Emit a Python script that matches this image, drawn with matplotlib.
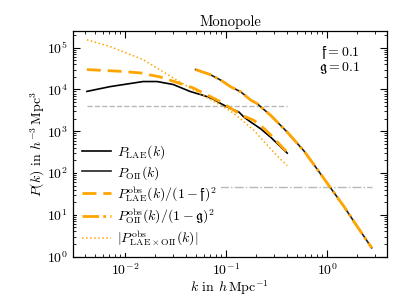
import numpy as np
import matplotlib
matplotlib.use("Agg")
import matplotlib.pyplot as plt

plt.rcParams['font.family'] = 'serif'
plt.rcParams['font.serif'] = ['cmr10']
plt.rcParams['mathtext.fontset'] = 'cm'
plt.rcParams['axes.unicode_minus'] = False
plt.rcParams['axes.formatter.use_mathtext'] = True

# --- data ---
k_lae = [0.0042, 0.0071, 0.0151, 0.0208, 0.030, 0.044, 0.060, 0.074, 0.0889,
         0.1115, 0.134, 0.150, 0.176, 0.22, 0.277, 0.33, 0.404]
p_lae = [9000, 11700, 15500, 15500, 13200, 9000, 7200, 6000, 4600,
         3470, 2900, 2200, 1660, 1150, 720, 480, 300]

k_lae_obs = [0.0042, 0.0089, 0.0141, 0.0222, 0.030, 0.047, 0.069, 0.0889,
             0.120, 0.150, 0.189, 0.23, 0.277, 0.373, 0.404]
p_lae_obs = [30000, 27300, 25000, 20000, 15800, 11000, 6900, 5040,
             3170, 2300, 1820, 1250, 820, 380, 320]

k_oii = [0.050, 0.069, 0.0889, 0.1115, 0.140, 0.176, 0.203, 0.277, 0.404,
         0.588, 0.797, 1.078, 1.458, 1.976, 2.77]
p_oii = [30000, 23000, 16750, 11600, 8800, 5560, 4600, 2400, 955,
         344, 125, 45, 16.3, 5.4, 1.62]

k_cross = [0.0042, 0.0071, 0.0151, 0.028, 0.047, 0.070, 0.0889, 0.120,
           0.150, 0.189, 0.23, 0.277, 0.33, 0.404]
p_cross = [155000, 107000, 52000, 21000, 10000, 5800, 4200, 2660,
           1700, 1050, 620, 380, 240, 150]

shot_lae = 4050.0
shot_lae_range = [0.0042, 0.404]
shot_oii = 46.8
shot_oii_range = [0.0042, 2.77]

f_val = 0.1
g_val = 0.1

fig = plt.figure(figsize=(4.07, 3.05), dpi=100)
ax = fig.add_axes([0.179, 0.157, 0.772, 0.741])

ax.plot(shot_lae_range, [shot_lae, shot_lae], color='#b8b8b8', ls='--', lw=1.0)
ax.plot(shot_oii_range, [shot_oii, shot_oii], color='#b8b8b8', ls='-.', lw=1.0)

ax.plot(k_lae, p_lae, color='black', lw=1.2, label=r'$P_{\rm LAE}(k)$')
ax.plot(k_oii, p_oii, color='#222222', lw=1.2, label=r'$P_{\rm OII}(k)$')
ax.plot(k_lae_obs, p_lae_obs, color='orange', ls=(0, (5, 2.5)), lw=2.0,
        label=r'$P^{\rm obs}_{\rm LAE}(k)/(1-\mathfrak{f})^2$')
ax.plot(k_oii, p_oii, color='orange', ls=(0, (6, 1.5, 1, 1.5)), lw=2.0,
        label=r'$P^{\rm obs}_{\rm OII}(k)/(1-\mathfrak{g})^2$')
ax.plot(k_cross, p_cross, color='orange', ls=':', lw=1.1,
        label=r'$|P^{\rm obs}_{\rm LAE\times OII}(k)|$')

ax.set_xscale('log')
ax.set_yscale('log')
ax.set_xlim(0.00305, 3.93)
ax.set_ylim(0.97, 2.5e5)

ax.tick_params(which='both', direction='in', top=True, right=True, labelsize=10)
ax.tick_params(which='major', length=5, width=0.8)
ax.tick_params(which='minor', length=2.5, width=0.6)
for s in ax.spines.values():
    s.set_linewidth(0.9)

ax.set_title('Monopole', fontsize=10.5, pad=4)
ax.set_xlabel(r'$k$ in $h\,\mathrm{Mpc}^{-1}$', fontsize=10, labelpad=0.5)
ax.set_ylabel(r'$P(k)$ in $h^{-3}\,\mathrm{Mpc}^3$', fontsize=10, labelpad=0)

ax.text(0.915, 0.945,
        r'$\mathfrak{f} = %.1f$' % f_val + '\n' + r'$\mathfrak{g} = %.1f$' % g_val,
        transform=ax.transAxes, ha='right', va='top', multialignment='right',
        fontsize=10, linespacing=0.95)

leg = ax.legend(loc='lower left', fontsize=10, frameon=True, framealpha=1.0,
                handlelength=2.1, handletextpad=0.4, labelspacing=0.2,
                borderaxespad=0.3, borderpad=0.35)
leg.get_frame().set_edgecolor('none')
leg.get_frame().set_facecolor('white')

fig.savefig('out.png', dpi=100)
